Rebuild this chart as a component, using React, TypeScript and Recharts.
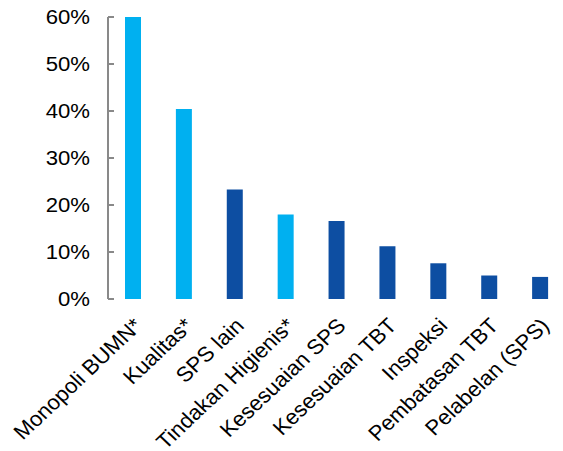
import { BarChart, Bar, XAxis, YAxis, Cell } from "recharts"

const categories = [
  "Monopoli BUMN*",
  "Kualitas*",
  "SPS lain",
  "Tindakan Higienis*",
  "Kesesuaian SPS",
  "Kesesuaian TBT",
  "Inspeksi",
  "Pembatasan TBT",
  "Pelabelan (SPS)",
]
const shares = [60, 40.4, 23.3, 18.0, 16.6, 11.2, 7.6, 5.0, 4.7]
const groups = ["a", "a", "b", "a", "b", "b", "b", "b", "b"]
const yTicks = [0, 10, 20, 30, 40, 50, 60]

const COLORS: Record<string, string> = { a: "#00B0F0", b: "#0D4EA2" }
const AXIS = "#898989"
const FONT = "'Liberation Sans', Arial, sans-serif"

const data = categories.map((name, i) => ({ name, value: shares[i], group: groups[i] }))
const boundaries = categories.map((_, i) => i).slice(1)

// the source picture is a little wider than tall, so text is stretched sideways
function LabelTick({ x, y, payload }: any) {
  return (
    <g transform={`translate(${x + 10},${y + 28}) scale(1.06,1) rotate(-45)`}>
      <text textAnchor="end" fontSize={21} fill="#000" fontFamily={FONT}>
        {payload.value}
      </text>
    </g>
  )
}

function PercentTick({ x, y, payload }: any) {
  return (
    <g transform={`translate(${x},${y}) scale(1.08,1)`}>
      <text textAnchor="end" dy="0.355em" fontSize={20.5} fill="#000" fontFamily={FONT}>
        {`${payload.value}%`}
      </text>
    </g>
  )
}

export default function App() {
  return (
    <div style={{ position: "absolute", left: 0, top: 0, width: 563, height: 451, overflow: "hidden", background: "#fff" }}>
      <BarChart width={566} height={451} data={data} margin={{ top: 17, right: 0, bottom: 0, left: 0 }}>
        <XAxis
          xAxisId="grid"
          type="number"
          domain={[0, categories.length]}
          ticks={boundaries}
          interval={0}
          height={0}
          mirror
          tick={() => <g />}
          tickSize={6}
          axisLine={{ stroke: AXIS, strokeWidth: 2 }}
          tickLine={{ stroke: AXIS, strokeWidth: 2 }}
        />
        <XAxis
          dataKey="name"
          interval={0}
          height={152}
          axisLine={false}
          tickLine={false}
          tickSize={0}
          tickMargin={0}
          tick={<LabelTick />}
        />
        <YAxis
          width={108}
          domain={[0, 60]}
          ticks={yTicks}
          interval={0}
          tickSize={-6}
          tickMargin={24}
          axisLine={{ stroke: AXIS, strokeWidth: 2 }}
          tickLine={{ stroke: AXIS, strokeWidth: 2 }}
          tick={<PercentTick />}
        />
        <Bar dataKey="value" barSize={16} isAnimationActive={false}>
          {data.map((d) => (
            <Cell key={d.name} fill={COLORS[d.group]} />
          ))}
        </Bar>
      </BarChart>
    </div>
  )
}
